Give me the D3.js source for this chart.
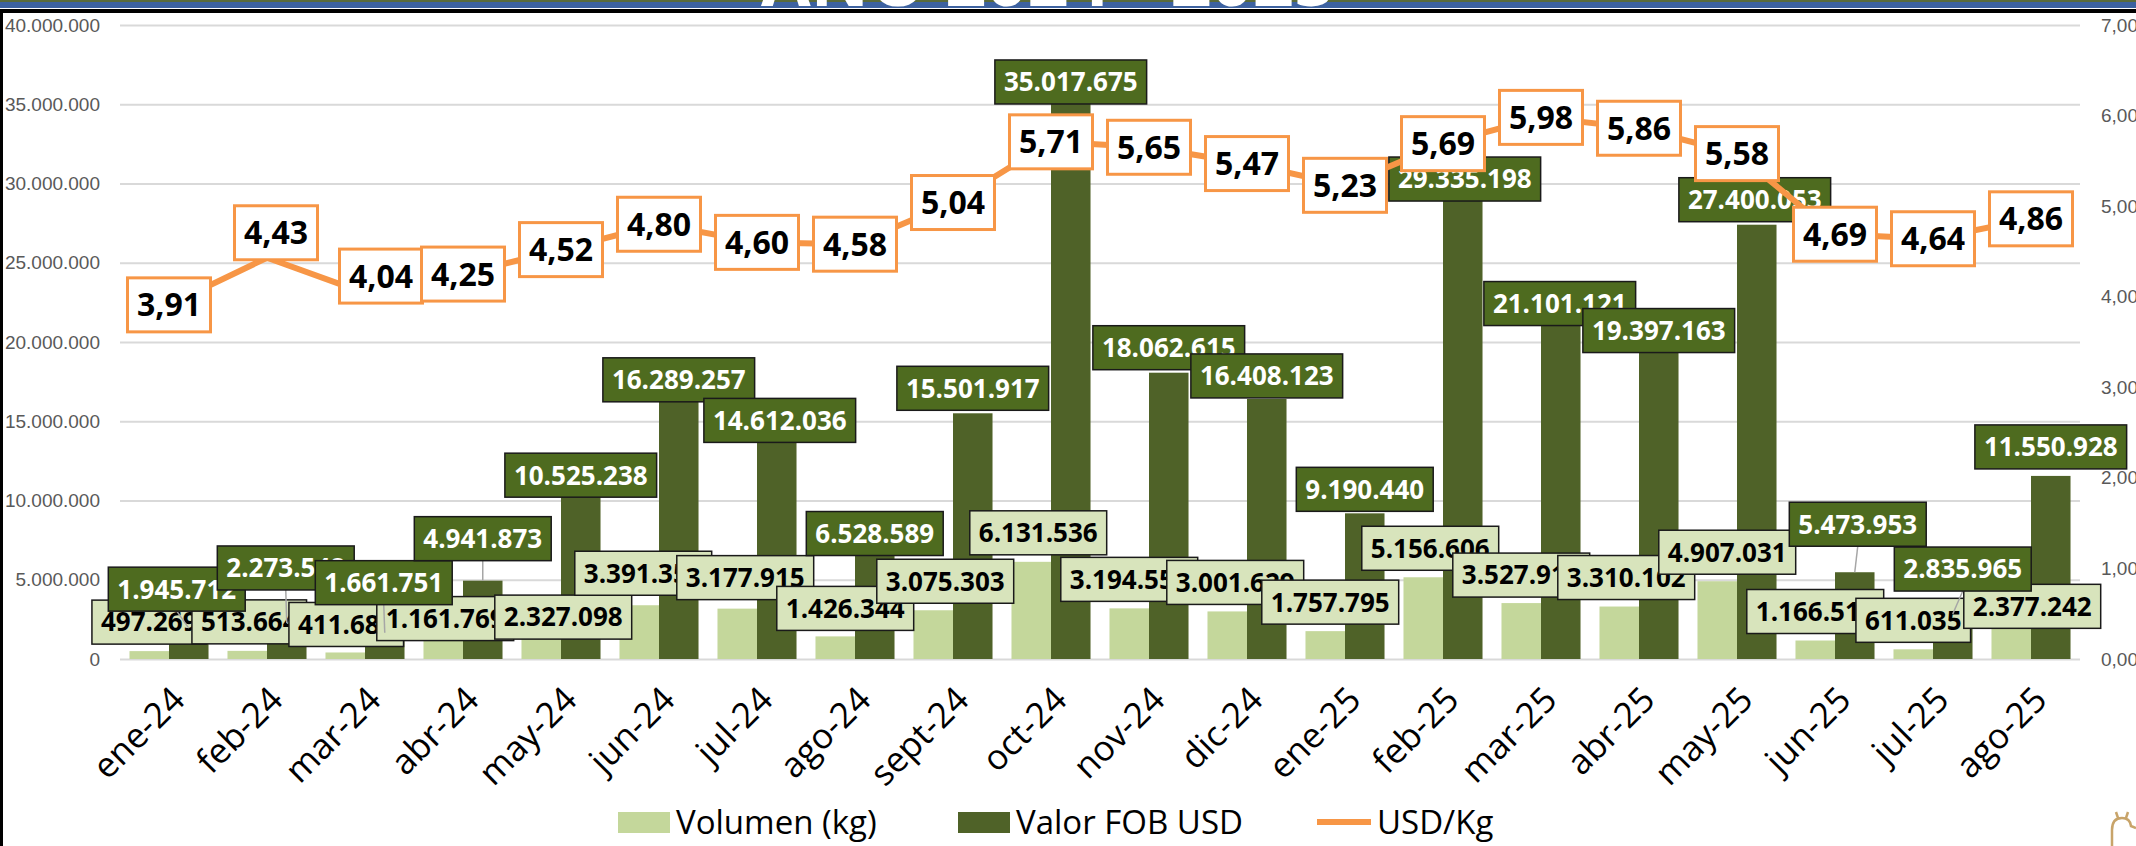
<!DOCTYPE html>
<head>
  <meta charset="utf-8">
  <script src="https://d3js.org/d3.v7.min.js"></script>
  <style>
    body { margin:0; background:#fff; }
    svg { display:block; font-family:"Open Sans", sans-serif; }
  </style>
</head>
<body>
  <svg id="chart" width="2136" height="846"></svg>
  <script>
    // ---- data ----
    const meses = ["ene-24","feb-24","mar-24","abr-24","may-24","jun-24","jul-24","ago-24","sept-24","oct-24",
                   "nov-24","dic-24","ene-25","feb-25","mar-25","abr-25","may-25","jun-25","jul-25","ago-25"];
    const volumen = [497269, 513664, 411683, 1161769, 2327098, 3391350, 3177915, 1426344, 3075303, 6131536,
                     3194556, 3001629, 1757795, 5156606, 3527912, 3310102, 4907031, 1166517, 611035, 2377242];
    const valorFob = [1945712, 2273548, 1661751, 4941873, 10525238, 16289257, 14612036, 6528589, 15501917, 35017675,
                      18062615, 16408123, 9190440, 29335198, 21101121, 19397163, 27400053, 5473953, 2835965, 11550928];
    const usdKg = [3.91, 4.43, 4.04, 4.25, 4.52, 4.80, 4.60, 4.58, 5.04, 5.71,
                   5.65, 5.47, 5.23, 5.69, 5.98, 5.86, 5.58, 4.69, 4.64, 4.86];
    const leftTicks = d3.range(0, 40000001, 5000000);
    const rightTicks = d3.range(0, 8);
    const series = ["Volumen (kg)", "Valor FOB USD", "USD/Kg"];

    // labels were dragged by hand in the original, these are the nudges in px
    const volNudge = [[0,-7],[2,-7],[1,-6],[2,0],[22,17],[4,-10],[8,-9],[10,-6],[12,-7],[7,-7],
                      [0,-7],[8,-7],[5,-7],[7,-7],[0,-6],[7,-7],[10,-7],[0,-7],[0,-7],[21,7]];
    const fobNudge = [[-12,-17],[-1,-33],[-1,-28],[0,-20],[0,5],[0,1],[3,15],[0,0],[0,-3],[0,0],
                      [0,-3],[0,-1],[0,-2],[2,7],[-1,1],[0,1],[-2,-3],[3,-26],[10,-23],[0,-7]];
    const priceNudge = meses.map(() => [0,0]);
    priceNudge[1] = [9,-25];
    priceNudge[2] = [16,-17];

    const W = 2136, H = 846;
    const plot = {x0:120, x1:2080, y0:25, y1:659};

    const loc = d3.formatLocale({decimal:",", thousands:".", grouping:[3], currency:["",""]});
    const fmtInt = loc.format(",.0f");
    const fmtDec = loc.format(",.2f");

    const c = {light:"#c4d79b", dark:"#4f6228", darkBox:"#4e6b1f", lightBox:"#d8e4bc",
               orange:"#f79646", grid:"#d9d9d9", axis:"#595959"};

    const svg = d3.select("#chart");
    svg.append("rect").attr("width", W).attr("height", H).attr("fill", "#fff");

    const x = d3.scaleBand().domain(meses).range([plot.x0, plot.x1]);
    const xs = d3.scaleBand().domain(["vol","fob"]).range([0, x.bandwidth()]).paddingOuter(0.24);
    const y = d3.scaleLinear().domain([0, 40000000]).range([plot.y1, plot.y0]);
    const yR = d3.scaleLinear().domain([0, 7]).range([plot.y1, plot.y0]);
    const cx = i => x(meses[i]) + x.bandwidth() / 2;

    // header strip (title cut off at the top)
    svg.append("rect").attr("width", W).attr("height", 2).attr("fill", "#5a6b3a");
    svg.append("rect").attr("y", 2).attr("width", W).attr("height", 6).attr("fill", "#3d62a0");
    svg.append("text").attr("x", 1048).attr("y", 6).attr("text-anchor", "middle")
      .attr("fill", "#fff").style("font-size", "72px").style("font-weight", 700)
      .text("AÑO 2024 - 2025");
    svg.append("rect").attr("y", 9).attr("width", W).attr("height", 4).attr("fill", "#000");
    svg.append("rect").attr("y", 9).attr("width", 3).attr("height", H - 9).attr("fill", "#000");

    // grid + left axis
    const gy = svg.append("g").attr("transform", `translate(${plot.x0},0)`)
      .call(d3.axisLeft(y).tickValues(leftTicks).tickFormat(fmtInt)
        .tickSize(-(plot.x1 - plot.x0)).tickPadding(20));
    gy.select(".domain").remove();
    gy.selectAll("line").attr("stroke", c.grid).attr("stroke-width", 2);
    gy.selectAll("text").attr("fill", c.axis).style("font-size", "19px");

    const gr = svg.append("g").attr("transform", `translate(${plot.x1},0)`)
      .call(d3.axisRight(yR).tickValues(rightTicks).tickFormat(fmtDec).tickSize(0).tickPadding(21));
    gr.select(".domain").remove();
    gr.selectAll("text").attr("fill", c.axis).style("font-size", "19px");

    // bars
    const bars = svg.append("g");
    bars.selectAll(".vol").data(volumen).join("rect")
      .attr("x", (d, i) => x(meses[i]) + xs("vol")).attr("width", xs.bandwidth())
      .attr("y", d => y(d)).attr("height", d => y(0) - y(d)).attr("fill", c.light);
    bars.selectAll(".fob").data(valorFob).join("rect")
      .attr("x", (d, i) => x(meses[i]) + xs("fob")).attr("width", xs.bandwidth())
      .attr("y", d => y(d)).attr("height", d => y(0) - y(d)).attr("fill", c.dark);

    // x tick labels
    svg.append("g").selectAll("text").data(meses).join("text")
      .attr("transform", (d, i) => `translate(${cx(i)},684) rotate(-45)`)
      .attr("text-anchor", "end").attr("dy", "0.72em")
      .style("font-size", "35px").attr("fill", "#000").text(d => d);

    // boxed value labels
    function boxLabels(vals, key, nudge, fill, textFill, leaders) {
      const g = svg.append("g");
      const h = 44;
      vals.forEach((v, i) => {
        const bx = x(meses[i]) + xs(key) + xs.bandwidth() / 2;
        const top = y(v);
        const lx = bx + nudge[i][0];
        const ly = top - h / 2 + nudge[i][1];
        if (leaders && nudge[i][1] < -15) {
          g.append("line").attr("x1", lx).attr("y1", ly + h / 2).attr("x2", bx).attr("y2", top)
            .attr("stroke", "#a6a6a6").attr("stroke-width", 1.5);
        }
        const lab = g.append("g").attr("transform", `translate(${lx},${ly})`);
        const r = lab.append("rect");
        const t = lab.append("text").attr("text-anchor", "middle").attr("dy", "0.36em")
          .style("font-size", "26px").style("font-weight", 700).attr("fill", textFill)
          .text(fmtInt(v));
        const w = t.node().getComputedTextLength() + 18;
        r.attr("x", -w / 2).attr("y", -h / 2).attr("width", w).attr("height", h)
          .attr("fill", fill).attr("stroke", "#1a1a1a").attr("stroke-width", 1.5);
      });
    }
    boxLabels(volumen, "vol", volNudge, c.lightBox, "#000", false);
    boxLabels(valorFob, "fob", fobNudge, c.darkBox, "#fff", true);

    // price line
    const line = d3.line().x((d, i) => cx(i)).y(d => yR(d));
    svg.append("path").datum(usdKg).attr("d", line).attr("fill", "none")
      .attr("stroke", c.orange).attr("stroke-width", 6).attr("stroke-linejoin", "round");

    const pl = svg.append("g").selectAll("g").data(usdKg).join("g")
      .attr("transform", (d, i) => `translate(${cx(i) + priceNudge[i][0]},${yR(d) + priceNudge[i][1]})`);
    pl.append("rect").attr("x", -41.5).attr("y", -27).attr("width", 83).attr("height", 54)
      .attr("fill", "#fff").attr("stroke", c.orange).attr("stroke-width", 3);
    pl.append("text").attr("text-anchor", "middle").attr("dy", "0.36em")
      .style("font-size", "32px").style("font-weight", 700).attr("fill", "#000")
      .text(d => fmtDec(d));

    // legend
    const lg = svg.append("g");
    const legX = [618, 958, 1317];
    lg.append("rect").attr("x", legX[0]).attr("y", 812).attr("width", 52).attr("height", 21).attr("fill", c.light);
    lg.append("rect").attr("x", legX[1]).attr("y", 812).attr("width", 52).attr("height", 21).attr("fill", c.dark);
    lg.append("line").attr("x1", legX[2]).attr("x2", legX[2] + 54).attr("y1", 822).attr("y2", 822)
      .attr("stroke", c.orange).attr("stroke-width", 6);
    lg.selectAll("text").data(series).join("text")
      .attr("x", (d, i) => legX[i] + (i === 2 ? 60 : 58)).attr("y", 834)
      .style("font-size", "33px").attr("fill", "#000").text(d => d);

    // little logo peeking in the bottom-right corner
    svg.append("path")
      .attr("d", "M2112,846 L2112,830 Q2112,818 2122,818 Q2130,818 2131,826 L2136,828 M2118,818 L2116,812 M2126,818 L2128,812")
      .attr("fill", "none").attr("stroke", "#c8a46a").attr("stroke-width", 2.5);
  </script>
</body>
